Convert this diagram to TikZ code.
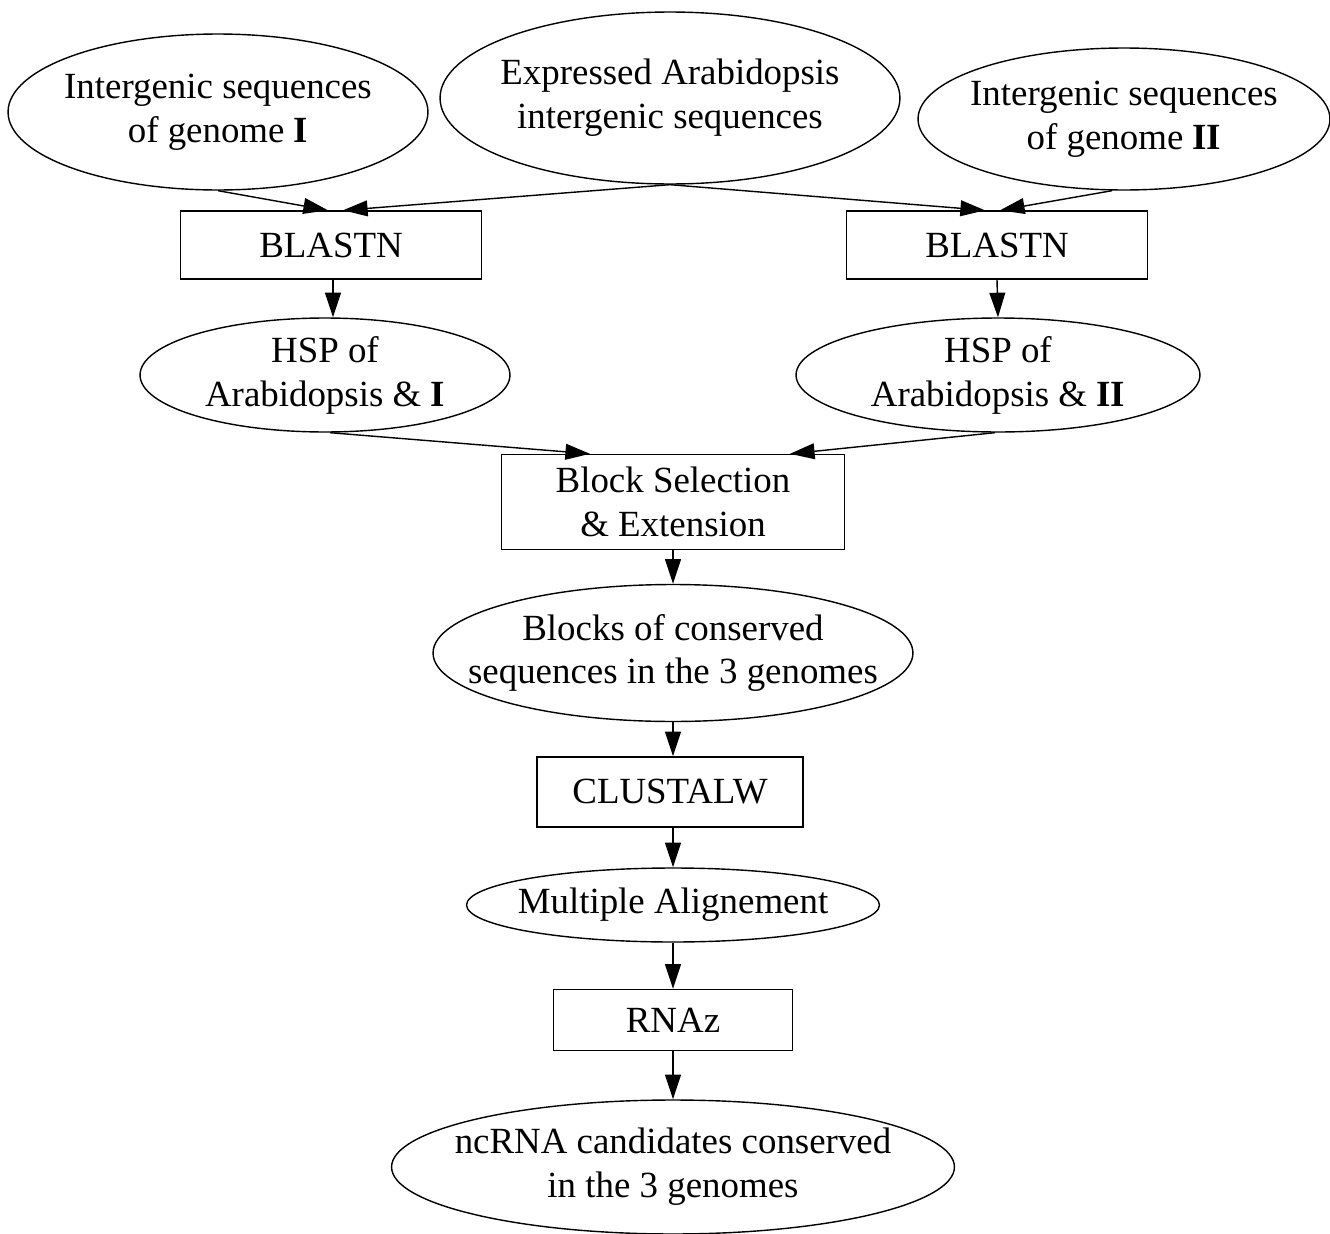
\documentclass[tikz,border=0pt]{standalone}
\usepackage{fontspec}
\setmainfont{Liberation Serif}
\usetikzlibrary{shapes.geometric,arrows.meta,calc}
\begin{document}
\begin{tikzpicture}[x=0.02cm,y=-0.02cm,
  every node/.style={font=\fontsize{21}{25}\selectfont, align=center, inner sep=0pt},
  ell/.style={draw, ellipse, line width=0.8pt},
  box/.style={draw, rectangle, line width=0.8pt},
  arr/.style={line width=0.8pt, -{Triangle[length=14pt,width=9pt]}}]
\useasboundingbox (0,0) rectangle (1330,1234);
\node[ell, minimum width=8.4cm, minimum height=3.12cm, label={center:Intergenic sequences\\of genome \textbf{I}}] (e1) at (218,112) {};
\node[ell, minimum width=9.2cm, minimum height=3.44cm, label={center:Expressed Arabidopsis\\intergenic sequences}] (e2) at (670,98) {};
\node[ell, minimum width=8.24cm, minimum height=2.84cm, label={center:Intergenic sequences\\of genome \textbf{II}}] (e3) at (1124,119) {};
\node[box, minimum width=6.02cm, minimum height=1.36cm] (b1) at (331,245) {BLASTN};
\node[box, minimum width=6.02cm, minimum height=1.36cm] (b2) at (997,245) {BLASTN};
\node[ell, minimum width=7.4cm, minimum height=2.28cm, label={center:HSP of\\Arabidopsis \& \textbf{I}}] (h1) at (325,375) {};
\node[ell, minimum width=8.08cm, minimum height=2.28cm, label={center:HSP of\\Arabidopsis \& \textbf{II}}] (h2) at (998,375) {};
\node[box, minimum width=6.86cm, minimum height=1.9cm] (bs) at (673,502) {Block Selection\\ \& Extension};
\node[ell, minimum width=9.6cm, minimum height=2.74cm, label={center:Blocks of conserved\\sequences in the 3 genomes}] (bc) at (673,653) {};
\node[box, minimum width=5.32cm, minimum height=1.4cm] (cl) at (670,792) {CLUSTALW};
\node[ell, minimum width=8.26cm, minimum height=1.48cm, label={center:Multiple Alignement}] (ma) at (673,905) {};
\node[box, minimum width=4.78cm, minimum height=1.22cm] (rn) at (673,1020) {RNAz};
\node[ell, minimum width=11.26cm, minimum height=2.68cm, label={center:ncRNA candidates conserved\\in the 3 genomes}] (nc) at (673,1167) {};
\draw[arr] (e1.south) -- ($(b1.north)+(-3,0)$);
\draw[arr] (e2.south) -- ($(b1.north)+(12,0)$);
\draw[arr] (e2.south) -- ($(b2.north)+(-12,0)$);
\draw[arr] ($(e3.south)+(-12,0)$) -- ($(b2.north)+(3,0)$);
\draw[arr] ($(b1.south)+(2,0)$) -- ($(h1.north)+(8,0)$);
\draw[arr] (b2.south) -- (h2.north);
\draw[arr] ($(h1.south)+(5,0)$) -- ($(bs.north)+(-83,0)$);
\draw[arr] ($(h2.south)+(-3,0)$) -- ($(bs.north)+(117,0)$);
\draw[arr] (bs.south) -- (bc.north);
\draw[arr] (bc.south) -- ($(cl.north)+(3,0)$);
\draw[arr] ($(cl.south)+(3,0)$) -- (ma.north);
\draw[arr] (ma.south) -- (rn.north);
\draw[arr] (rn.south) -- (nc.north);
\end{tikzpicture}
\end{document}
